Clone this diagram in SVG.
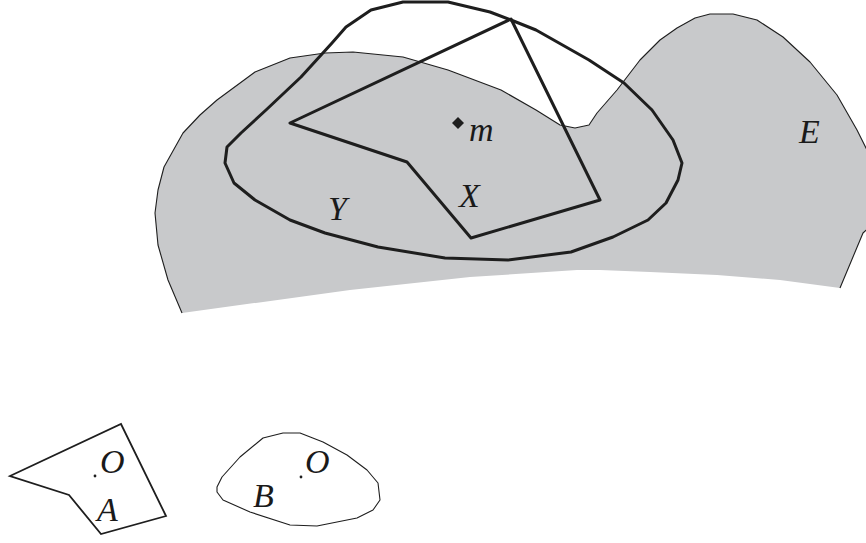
<svg xmlns="http://www.w3.org/2000/svg" width="866" height="543" viewBox="0 0 866 543">
<style>
.thick{fill:none;stroke:#1e1e1e;stroke-width:3;stroke-linejoin:round}
.thin{fill:none;stroke:#1e1e1e;stroke-width:1.1;stroke-linejoin:round}
.mid{fill:none;stroke:#1e1e1e;stroke-width:1.8;stroke-linejoin:miter}
.dot{fill:#1e1e1e}
</style>
<rect width="866" height="543" fill="#ffffff"/>
<g font-family="Liberation Serif, serif" font-style="italic" font-size="34" fill="#1a1a1a">
<g id="E">
<path d="M182,313 L168,280 L158,245 L155,213 L158,190 L164,167 L183,133 L200,115 L217,100 L255,72 L290,58 L325,53 L353,52 L403,57 L448,70 L501,90 L536,110 L560,125 L575,128 L589,125 L597,113 L617,90 L640,60 L660,40 L677,28 L695,18 L710,14 L733,14 L757,20 L783,37 L810,62 L837,95 L857,130 L872,160 L872,225 L863,233 L840,288 L780,280 L717,275 L650,272 L600,270 L577,270 L470,277 L350,290 Z" fill="#c8c9cb" stroke="none"/>
<polyline class="thin" points="182,313 168,280 158,245 155,213 158,190 164,167 183,133 200,115 217,100 255,72 290,58 325,53 353,52 403,57 448,70 501,90 536,110 560,125 575,128 589,125 597,113 617,90 640,60 660,40 677,28 695,18 710,14 733,14 757,20 783,37 810,62 837,95 857,130 872,160"/>
<polyline class="thin" points="872,225 863,233 840,288"/>
<text x="799" y="143">E</text>
</g>
<g id="Y">
<polygon class="thick" points="371,10 403,2 448,2 490,12 511,20 536,30 589,60 624,83 652,110 673,140 682,163 678,180 666,203 648,220 613,237 571,252 508,260 445,258 378,247 325,233 290,220 255,200 234,183 225,163 227,147 241,133 266,110 301,77 332,43 346,27"/>
<text x="328" y="220">Y</text>
</g>
<g id="X">
<polygon class="thick" points="290,123 511,19 600,200 471,238 407,162"/>
<text x="459" y="207">X</text>
</g>
<g id="m">
<polygon class="dot" points="458,117 464,123 458,129 452,123"/>
<text x="469" y="141">m</text>
</g>
<g id="A">
<polygon class="mid" points="10,476 121,424 166,516 101,534 69,495"/>
<circle class="dot" cx="95" cy="476" r="1.4"/>
<text x="100" y="473">O</text>
<text x="97" y="521">A</text>
</g>
<g id="B">
<path class="thin" d="M217,487 L222,477 L240,457 L263,438 L283,433 L300,433 L323,442 L347,455 L367,470 L378,483 L380,500 L373,510 L357,518 L317,526 L290,525 L250,512 L223,500 L217,492 Z"/>
<circle class="dot" cx="301" cy="477" r="1.4"/>
<text x="305" y="473">O</text>
<text x="253" y="507">B</text>
</g>
</g>
<g id="connectors"></g>
</svg>
